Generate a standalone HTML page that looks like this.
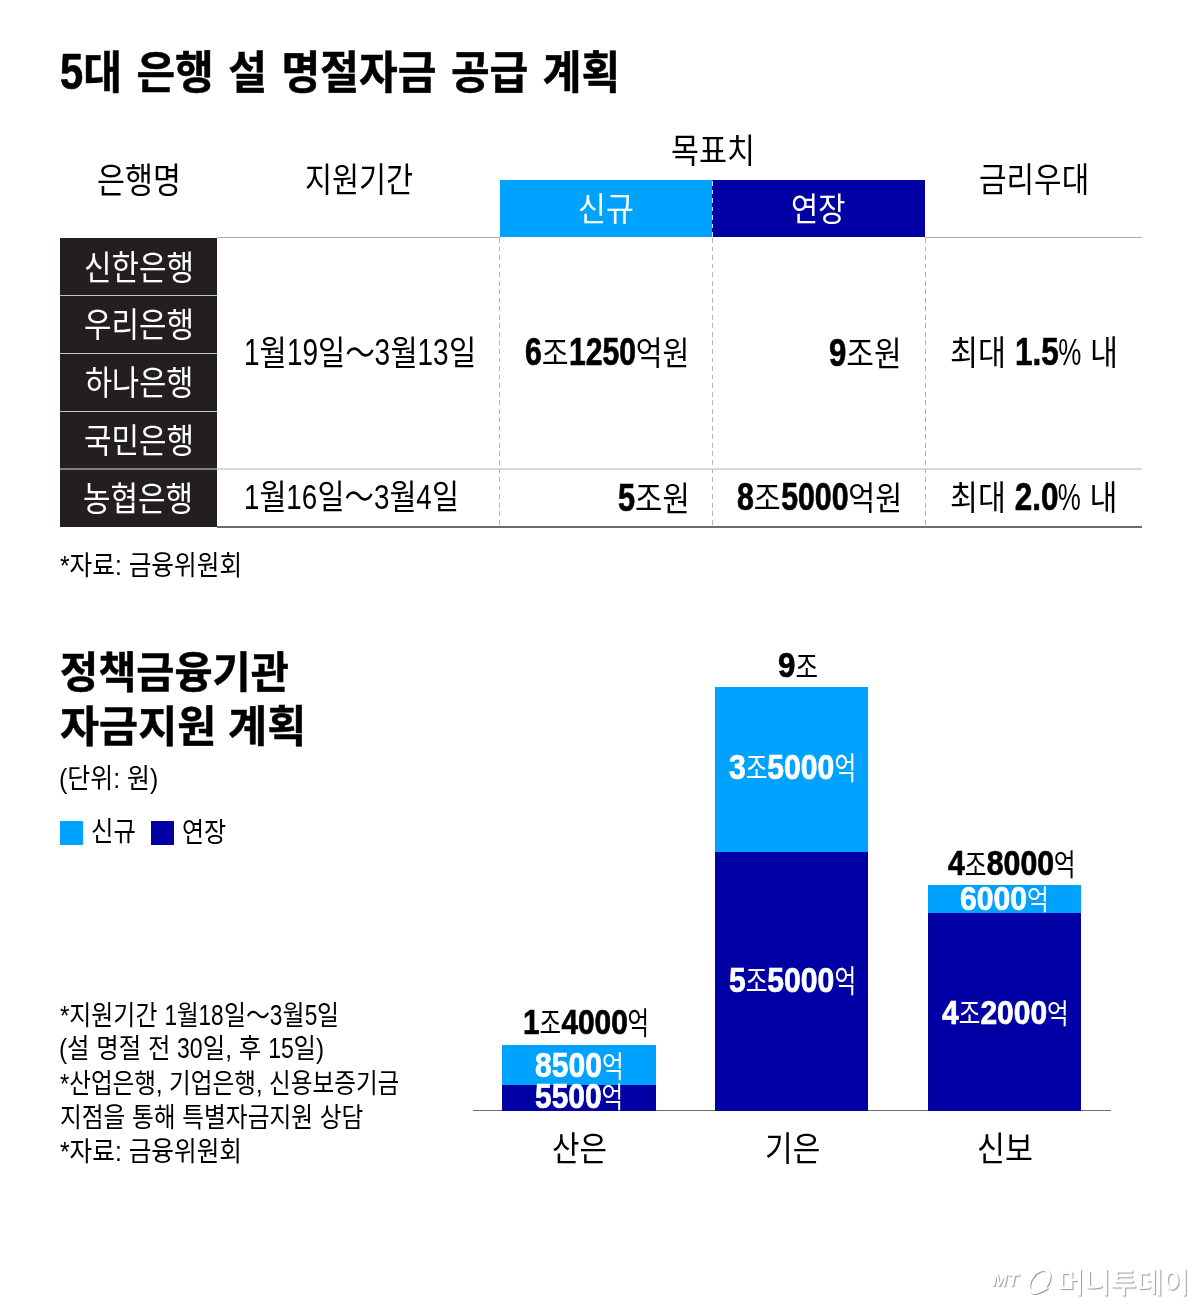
<!DOCTYPE html>
<html lang="ko"><head><meta charset="utf-8"><title>5대 은행 설 명절자금 공급 계획</title>
<style>
html,body{margin:0;padding:0;background:#fff}
body{width:1200px;height:1305px;position:relative;overflow:hidden;font-family:"Liberation Sans","Noto Sans CJK KR","NanumGothic",sans-serif;color:#000}
.t{position:absolute;white-space:nowrap;line-height:1;transform-origin:0 0;font-weight:400;letter-spacing:0}
.t b,.t .d{display:inline-block;transform-origin:0 50%;font-weight:700}
.t b{-webkit-text-stroke:0.7px}
.t .d{font-weight:inherit}
.r{position:absolute}
.dash{width:1px;background:repeating-linear-gradient(to bottom,#b4b4b4 0,#b4b4b4 4.8px,transparent 4.8px,transparent 8.54px)}
.dash.w{background:repeating-linear-gradient(to bottom,rgba(255,255,255,.85) 0,rgba(255,255,255,.85) 4.8px,transparent 4.8px,transparent 8.54px)}
</style></head>
<body>
<!-- table -->
<div class="r" style="left:217px;top:237px;width:282.5px;height:1px;background:#b0b0b4"></div>
<div class="r" style="left:925px;top:237px;width:217px;height:1px;background:#b0b0b4"></div>
<div class="r" style="left:499.5px;top:179.7px;width:213px;height:57.3px;background:#00a2ff"></div>
<div class="r" style="left:712.4px;top:179.7px;width:212.6px;height:57.3px;background:#0000a5"></div>
<div class="r" style="left:60px;top:237.7px;width:157.3px;height:289.8px;background:#231f20"></div>
<div class="r" style="left:60px;top:295px;width:157.3px;height:1px;background:#c4c4c4"></div>
<div class="r" style="left:60px;top:353px;width:157.3px;height:1px;background:#c4c4c4"></div>
<div class="r" style="left:60px;top:411px;width:157.3px;height:1px;background:#c4c4c4"></div>
<div class="r" style="left:60px;top:468px;width:157.3px;height:2px;background:#808080"></div>
<div class="r" style="left:217.3px;top:468px;width:924.7px;height:2px;background:#d9d9dc"></div>
<div class="r" style="left:217.3px;top:526px;width:924.7px;height:2px;background:#6c6c6c"></div>
<div class="r dash" style="left:499px;top:237.7px;height:288.3px"></div>
<div class="r dash" style="left:712px;top:237.7px;height:288.3px"></div>
<div class="r dash" style="left:925px;top:237.7px;height:288.3px"></div>
<div class="r dash w" style="left:712px;top:180.5px;height:56.5px"></div>
<!-- legend -->
<div class="r" style="left:60px;top:821px;width:23px;height:23.5px;background:#00a2ff"></div>
<div class="r" style="left:150.5px;top:821px;width:23.3px;height:23.5px;background:#0000a5"></div>
<!-- chart -->
<div class="r" style="left:472.5px;top:1110px;width:638.5px;height:1.4px;background:#6e6e6e"></div>
<div class="r" style="left:502px;top:1045px;width:153.5px;height:40px;background:#00a2ff"></div>
<div class="r" style="left:502px;top:1085px;width:153.5px;height:26.4px;background:#0000a5"></div>
<div class="r" style="left:714.5px;top:687px;width:153.5px;height:165px;background:#00a2ff"></div>
<div class="r" style="left:714.5px;top:851.8px;width:153.5px;height:259.6px;background:#0000a5"></div>
<div class="r" style="left:927.5px;top:885px;width:153.5px;height:28px;background:#00a2ff"></div>
<div class="r" style="left:927.5px;top:913px;width:153.5px;height:198.4px;background:#0000a5"></div>
<!-- watermark logo -->
<svg class="r" style="left:1020px;top:1262px" width="40" height="38" viewBox="0 0 40 38">
 <defs><filter id="ws" x="-20%" y="-20%" width="150%" height="150%"><feDropShadow dx="1" dy="1" stdDeviation="0.6" flood-color="#909090" flood-opacity="0.9"/></filter></defs>
 <g filter="url(#ws)" fill="none" stroke="#fff">
  <ellipse cx="19" cy="19" rx="8.2" ry="13" transform="rotate(38 19 19)" stroke-width="3"/>
  <path d="M6.5 21.5 C7.5 29, 17 33.5, 27.5 25.5" stroke-width="1.6"/>
 </g>
</svg>

<div class="t" style="left:59.56px;top:47.53px;font-size:45.07px;transform:scaleX(0.9339);font-weight:700;word-spacing:3px;-webkit-text-stroke:0.5px"><b style="font-size:1.100em;transform:scaleX(0.900);margin-right:-0.0556em">5</b>대 은행 설 명절자금 공급 계획</div>
<div class="t" style="left:96.99px;top:163.56px;font-size:34.90px;transform:scaleX(0.8712)">은행명</div>
<div class="t" style="left:304.67px;top:162.87px;font-size:34.46px;transform:scaleX(0.8528)">지원기간</div>
<div class="t" style="left:670.69px;top:134.99px;font-size:33.58px;transform:scaleX(0.9062)">목표치</div>
<div class="t" style="left:978.50px;top:164.32px;font-size:33.79px;transform:scaleX(0.8866)">금리우대</div>
<div class="t" style="left:577.84px;top:192.72px;font-size:33.24px;transform:scaleX(0.9129);color:#fff">신규</div>
<div class="t" style="left:791.36px;top:192.72px;font-size:33.24px;transform:scaleX(0.8896);color:#fff">연장</div>
<div class="t" style="left:83.88px;top:250.75px;font-size:34.46px;transform:scaleX(0.8673);color:#fff">신한은행</div>
<div class="t" style="left:83.67px;top:308.37px;font-size:34.18px;transform:scaleX(0.8757);color:#fff">우리은행</div>
<div class="t" style="left:84.55px;top:365.92px;font-size:34.29px;transform:scaleX(0.8600);color:#fff">하나은행</div>
<div class="t" style="left:83.90px;top:423.60px;font-size:34.13px;transform:scaleX(0.8765);color:#fff">국민은행</div>
<div class="t" style="left:83.10px;top:482.36px;font-size:34.41px;transform:scaleX(0.8694);color:#fff">농협은행</div>
<div class="t" style="left:243.94px;top:334.60px;font-size:34.50px;transform:scaleX(0.8587)"><span class="d" style="font-size:1.050em;transform:scaleX(0.900);margin-right:-0.0556em">1</span>월<span class="d" style="font-size:1.050em;transform:scaleX(0.900);margin-right:-0.1112em">19</span>일<span class="tl">～</span><span class="d" style="font-size:1.050em;transform:scaleX(0.900);margin-right:-0.0556em">3</span>월<span class="d" style="font-size:1.050em;transform:scaleX(0.900);margin-right:-0.1112em">13</span>일</div>
<div class="t" style="left:244.04px;top:480.34px;font-size:34.17px;transform:scaleX(0.8608)"><span class="d" style="font-size:1.050em;transform:scaleX(0.900);margin-right:-0.0556em">1</span>월<span class="d" style="font-size:1.050em;transform:scaleX(0.900);margin-right:-0.1112em">16</span>일<span class="tl">～</span><span class="d" style="font-size:1.050em;transform:scaleX(0.900);margin-right:-0.0556em">3</span>월<span class="d" style="font-size:1.050em;transform:scaleX(0.900);margin-right:-0.0556em">4</span>일</div>
<div class="t" style="left:524.99px;top:332.68px;font-size:33.16px;transform:scaleX(0.8786)"><b style="font-size:1.150em;transform:scaleX(0.900);margin-right:-0.0556em">6</b>조<b style="font-size:1.150em;transform:scaleX(0.900);margin-right:-0.2224em">1250</b>억원</div>
<div class="t" style="left:828.84px;top:332.66px;font-size:33.99px;transform:scaleX(0.8839)"><b style="font-size:1.150em;transform:scaleX(0.900);margin-right:-0.0556em">9</b>조원</div>
<div class="t" style="left:617.63px;top:478.16px;font-size:33.99px;transform:scaleX(0.8742)"><b style="font-size:1.150em;transform:scaleX(0.900);margin-right:-0.0556em">5</b>조원</div>
<div class="t" style="left:736.62px;top:478.18px;font-size:33.16px;transform:scaleX(0.8827)"><b style="font-size:1.150em;transform:scaleX(0.900);margin-right:-0.0556em">8</b>조<b style="font-size:1.150em;transform:scaleX(0.900);margin-right:-0.2224em">5000</b>억원</div>
<div class="t" style="left:949.85px;top:332.81px;font-size:33.80px;transform:scaleX(0.9015)">최대 <b style="font-size:1.150em;transform:scaleX(0.900);margin-right:-0.1390em">1.5</b><span class="d" style="font-size:1.12em;transform:scaleX(0.76);margin-right:-0.2134em">%</span> 내</div>
<div class="t" style="left:950.18px;top:478.27px;font-size:33.79px;transform:scaleX(0.8989)">최대 <b style="font-size:1.150em;transform:scaleX(0.900);margin-right:-0.1390em">2.0</b><span class="d" style="font-size:1.12em;transform:scaleX(0.76);margin-right:-0.2134em">%</span> 내</div>
<div class="t" style="left:60.01px;top:551.69px;font-size:27.50px;transform:scaleX(0.8965)">*자료: 금융위원회</div>
<div class="t" style="left:59.73px;top:651.00px;font-size:43.69px;transform:scaleX(0.9488);font-weight:700;-webkit-text-stroke:0.5px">정책금융기관</div>
<div class="t" style="left:60.33px;top:704.80px;font-size:43.76px;transform:scaleX(0.9708);font-weight:700;-webkit-text-stroke:0.5px">자금지원 계획</div>
<div class="t" style="left:58.50px;top:765.40px;font-size:27.50px;transform:scaleX(0.9067)">(단위: 원)</div>
<div class="t" style="left:91.04px;top:818.31px;font-size:27.50px;transform:scaleX(0.8881)">신규</div>
<div class="t" style="left:182.44px;top:818.94px;font-size:27.50px;transform:scaleX(0.8728)">연장</div>
<div class="t" style="left:60.05px;top:1000.59px;font-size:27.50px;transform:scaleX(0.8706)">*지원기간 <span class="d" style="font-size:1.050em;transform:scaleX(0.900);margin-right:-0.0556em">1</span>월<span class="d" style="font-size:1.050em;transform:scaleX(0.900);margin-right:-0.1112em">18</span>일<span class="tl">～</span><span class="d" style="font-size:1.050em;transform:scaleX(0.900);margin-right:-0.0556em">3</span>월<span class="d" style="font-size:1.050em;transform:scaleX(0.900);margin-right:-0.0556em">5</span>일</div>
<div class="t" style="left:59.04px;top:1033.89px;font-size:27.50px;transform:scaleX(0.8863)">(설 명절 전 <span class="d" style="font-size:1.050em;transform:scaleX(0.900);margin-right:-0.1112em">30</span>일, 후 <span class="d" style="font-size:1.050em;transform:scaleX(0.900);margin-right:-0.1112em">15</span>일)</div>
<div class="t" style="left:59.98px;top:1069.75px;font-size:27.50px;transform:scaleX(0.8580)">*산업은행, 기업은행, 신용보증기금</div>
<div class="t" style="left:60.34px;top:1103.94px;font-size:27.50px;transform:scaleX(0.8620)">지점을 통해 특별자금지원 상담</div>
<div class="t" style="left:59.98px;top:1137.69px;font-size:27.50px;transform:scaleX(0.8963)">*자료: 금융위원회</div>
<div class="t" style="left:523.24px;top:1004.37px;font-size:30.44px;transform:scaleX(0.7690)"><b style="font-size:1.180em;transform:scaleX(1.080);margin-right:0.0445em">1</b>조<b style="font-size:1.180em;transform:scaleX(1.080);margin-right:0.1779em">4000</b>억</div>
<div class="t" style="left:534.91px;top:1047.89px;font-size:29.62px;transform:scaleX(0.7970);color:#fff"><b style="font-size:1.180em;transform:scaleX(1.080);margin-right:0.1779em">8500</b>억</div>
<div class="t" style="left:534.56px;top:1078.98px;font-size:29.08px;transform:scaleX(0.8071);color:#fff"><b style="font-size:1.180em;transform:scaleX(1.080);margin-right:0.1779em">5500</b>억</div>
<div class="t" style="left:777.76px;top:648.19px;font-size:29.18px;transform:scaleX(0.8401)"><b style="font-size:1.180em;transform:scaleX(1.080);margin-right:0.0445em">9</b>조</div>
<div class="t" style="left:728.79px;top:750.29px;font-size:30.17px;transform:scaleX(0.7828);color:#fff"><b style="font-size:1.180em;transform:scaleX(1.080);margin-right:0.0445em">3</b>조<b style="font-size:1.180em;transform:scaleX(1.080);margin-right:0.1779em">5000</b>억</div>
<div class="t" style="left:728.54px;top:962.79px;font-size:30.17px;transform:scaleX(0.7827);color:#fff"><b style="font-size:1.180em;transform:scaleX(1.080);margin-right:0.0445em">5</b>조<b style="font-size:1.180em;transform:scaleX(1.080);margin-right:0.1779em">5000</b>억</div>
<div class="t" style="left:947.74px;top:845.68px;font-size:29.35px;transform:scaleX(0.8080)"><b style="font-size:1.180em;transform:scaleX(1.080);margin-right:0.0445em">4</b>조<b style="font-size:1.180em;transform:scaleX(1.080);margin-right:0.1779em">8000</b>억</div>
<div class="t" style="left:960.31px;top:882.07px;font-size:28.54px;transform:scaleX(0.8297);color:#fff"><b style="font-size:1.180em;transform:scaleX(1.080);margin-right:0.1779em">6000</b>억</div>
<div class="t" style="left:942.11px;top:994.77px;font-size:28.81px;transform:scaleX(0.8166);color:#fff"><b style="font-size:1.180em;transform:scaleX(1.080);margin-right:0.0445em">4</b>조<b style="font-size:1.180em;transform:scaleX(1.080);margin-right:0.1779em">2000</b>억</div>
<div class="t" style="left:551.72px;top:1132.19px;font-size:34.55px;transform:scaleX(0.8649)">산은</div>
<div class="t" style="left:764.58px;top:1131.82px;font-size:34.07px;transform:scaleX(0.8824)">기은</div>
<div class="t" style="left:977.37px;top:1131.69px;font-size:34.55px;transform:scaleX(0.8783)">신보</div>
<div class="t" style="left:991.56px;top:1272.22px;font-size:17.39px;transform:scaleX(1.0555);font-weight:700;color:#fff;font-style:italic;text-shadow:1px 1px 1px #999">MT</div>
<div class="t" style="left:1058.28px;top:1268.91px;font-size:28.93px;transform:scaleX(0.9871);font-weight:500;color:#fff;text-shadow:1px 1px 1px #999">머니투데이</div>
</body></html>
